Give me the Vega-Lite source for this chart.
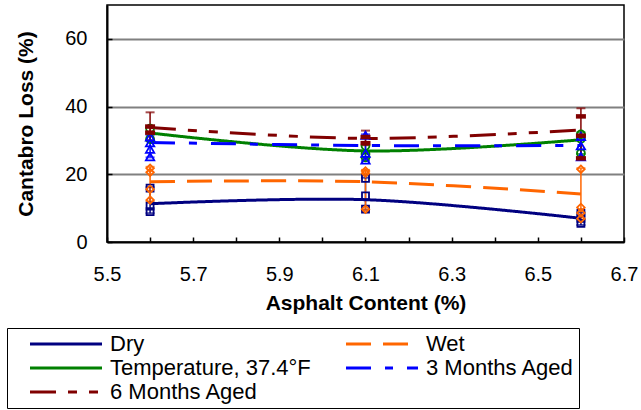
{
  "$schema": "https://vega.github.io/schema/vega-lite/v6.json",
  "width": 517,
  "height": 237,
  "autosize": "none",
  "padding": {"left": 107, "top": 5, "right": 17, "bottom": 168},
  "config": {
    "font": "Liberation Sans",
    "view": {"stroke": "#000", "strokeWidth": 1.5},
    "legend": {
      "title": null,
      "orient": "none",
      "legendX": -100,
      "legendY": 323,
      "direction": "horizontal",
      "columns": 2,
      "gridAlign": "all",
      "columnPadding": 17,
      "rowPadding": 2,
      "padding": 5,
      "strokeColor": "#000",
      "symbolType": "M-6,0H6",
      "symbolSize": 144,
      "symbolStrokeWidth": 3,
      "symbolOpacity": 1,
      "symbolFillColor": "transparent",
      "symbolOffset": 43,
      "labelFont": "Liberation Sans",
      "labelFontSize": 22,
      "labelColor": "#000",
      "labelOffset": 33,
      "labelLimit": 400
    }
  },
  "datasets": {
    "means": [
      {"series": "Dry", "asphalt": 5.6, "loss": 11.3},
      {"series": "Dry", "asphalt": 6.1, "loss": 12.5},
      {"series": "Dry", "asphalt": 6.6, "loss": 7.0},
      {"series": "Wet", "asphalt": 5.6, "loss": 17.8},
      {"series": "Wet", "asphalt": 6.1, "loss": 17.8},
      {"series": "Wet", "asphalt": 6.6, "loss": 14.2},
      {"series": "Temperature, 37.4°F", "asphalt": 5.6, "loss": 32.2},
      {"series": "Temperature, 37.4°F", "asphalt": 6.1, "loss": 26.9},
      {"series": "Temperature, 37.4°F", "asphalt": 6.6, "loss": 30.2},
      {"series": "3 Months Aged", "asphalt": 5.6, "loss": 29.4},
      {"series": "3 Months Aged", "asphalt": 6.1, "loss": 28.5},
      {"series": "3 Months Aged", "asphalt": 6.6, "loss": 28.5},
      {"series": "6 Months Aged", "asphalt": 5.6, "loss": 33.8},
      {"series": "6 Months Aged", "asphalt": 6.1, "loss": 30.6},
      {"series": "6 Months Aged", "asphalt": 6.6, "loss": 33.1}
    ],
    "samples": [
      {"series": "Dry", "asphalt": 5.6, "loss": 15.9},
      {"series": "Dry", "asphalt": 5.6, "loss": 10.6},
      {"series": "Dry", "asphalt": 5.6, "loss": 9.0},
      {"series": "Dry", "asphalt": 6.1, "loss": 18.8},
      {"series": "Dry", "asphalt": 6.1, "loss": 13.6},
      {"series": "Dry", "asphalt": 6.1, "loss": 9.7},
      {"series": "Dry", "asphalt": 6.6, "loss": 8.5},
      {"series": "Dry", "asphalt": 6.6, "loss": 7.0},
      {"series": "Dry", "asphalt": 6.6, "loss": 5.5},
      {"series": "Wet", "asphalt": 5.6, "loss": 21.8},
      {"series": "Wet", "asphalt": 5.6, "loss": 20.6},
      {"series": "Wet", "asphalt": 5.6, "loss": 15.6},
      {"series": "Wet", "asphalt": 5.6, "loss": 12.4},
      {"series": "Wet", "asphalt": 6.1, "loss": 21.0},
      {"series": "Wet", "asphalt": 6.1, "loss": 20.3},
      {"series": "Wet", "asphalt": 6.1, "loss": 9.7},
      {"series": "Wet", "asphalt": 6.6, "loss": 21.5},
      {"series": "Wet", "asphalt": 6.6, "loss": 10.2},
      {"series": "Wet", "asphalt": 6.6, "loss": 8.6},
      {"series": "Wet", "asphalt": 6.6, "loss": 6.9},
      {"series": "Temperature, 37.4°F", "asphalt": 5.6, "loss": 33.5},
      {"series": "Temperature, 37.4°F", "asphalt": 5.6, "loss": 30.4},
      {"series": "Temperature, 37.4°F", "asphalt": 6.1, "loss": 28.4},
      {"series": "Temperature, 37.4°F", "asphalt": 6.1, "loss": 26.0},
      {"series": "Temperature, 37.4°F", "asphalt": 6.1, "loss": 25.0},
      {"series": "Temperature, 37.4°F", "asphalt": 6.6, "loss": 31.8},
      {"series": "Temperature, 37.4°F", "asphalt": 6.6, "loss": 30.5},
      {"series": "Temperature, 37.4°F", "asphalt": 6.6, "loss": 26.2},
      {"series": "3 Months Aged", "asphalt": 5.6, "loss": 31.0},
      {"series": "3 Months Aged", "asphalt": 5.6, "loss": 29.3},
      {"series": "3 Months Aged", "asphalt": 5.6, "loss": 27.4},
      {"series": "3 Months Aged", "asphalt": 5.6, "loss": 25.2},
      {"series": "3 Months Aged", "asphalt": 6.1, "loss": 31.5},
      {"series": "3 Months Aged", "asphalt": 6.1, "loss": 26.2},
      {"series": "3 Months Aged", "asphalt": 6.1, "loss": 24.2},
      {"series": "3 Months Aged", "asphalt": 6.6, "loss": 31.2},
      {"series": "3 Months Aged", "asphalt": 6.6, "loss": 28.4},
      {"series": "3 Months Aged", "asphalt": 6.6, "loss": 25.2},
      {"series": "6 Months Aged", "asphalt": 5.6, "loss": 34.1},
      {"series": "6 Months Aged", "asphalt": 5.6, "loss": 32.3},
      {"series": "6 Months Aged", "asphalt": 6.1, "loss": 31.0},
      {"series": "6 Months Aged", "asphalt": 6.1, "loss": 29.2},
      {"series": "6 Months Aged", "asphalt": 6.6, "loss": 37.1},
      {"series": "6 Months Aged", "asphalt": 6.6, "loss": 31.4},
      {"series": "6 Months Aged", "asphalt": 6.6, "loss": 24.7}
    ],
    "ranges": [
      {"series": "Dry", "asphalt": 5.6, "low": 8.5, "high": 16.2},
      {"series": "Dry", "asphalt": 6.1, "low": 9.5, "high": 19.0},
      {"series": "Dry", "asphalt": 6.6, "low": 5.0, "high": 8.7},
      {"series": "Wet", "asphalt": 5.6, "low": 12.0, "high": 22.2},
      {"series": "Wet", "asphalt": 6.1, "low": 9.5, "high": 21.3},
      {"series": "Wet", "asphalt": 6.6, "low": 6.7, "high": 21.8},
      {"series": "Temperature, 37.4°F", "asphalt": 5.6, "low": 30.0, "high": 34.0},
      {"series": "Temperature, 37.4°F", "asphalt": 6.1, "low": 24.8, "high": 28.8},
      {"series": "Temperature, 37.4°F", "asphalt": 6.6, "low": 26.0, "high": 32.4},
      {"series": "3 Months Aged", "asphalt": 5.6, "low": 25.0, "high": 31.5},
      {"series": "3 Months Aged", "asphalt": 6.1, "low": 24.0, "high": 31.8},
      {"series": "3 Months Aged", "asphalt": 6.6, "low": 25.0, "high": 31.5},
      {"series": "6 Months Aged", "asphalt": 5.6, "low": 30.0, "high": 38.3},
      {"series": "6 Months Aged", "asphalt": 6.1, "low": 28.6, "high": 32.9},
      {"series": "6 Months Aged", "asphalt": 6.6, "low": 24.7, "high": 39.5}
    ]
  },
  "encoding": {
    "x": {
      "field": "asphalt",
      "type": "quantitative",
      "scale": {"domain": [5.5, 6.7], "nice": false, "zero": false},
      "axis": {
        "title": "Asphalt Content (%)",
        "values": [5.5, 5.6, 5.7, 5.8, 5.9, 6.0, 6.1, 6.2, 6.3, 6.4, 6.5, 6.6, 6.7],
        "labelExpr": "round(datum.value * 10) % 2 == 1 ? format(datum.value, '.1f') : ''",
        "grid": false,
        "domainColor": "#000",
        "domainWidth": 2,
        "tickColor": "#000",
        "tickWidth": 1.5,
        "tickSize": -5,
        "labelFontSize": 20,
        "labelColor": "#000",
        "labelPadding": 27,
        "labelFlush": false,
        "titleFontSize": 21,
        "titleFontWeight": "bold",
        "titleColor": "#000",
        "titlePadding": 8
      }
    },
    "color": {
      "field": "series",
      "type": "nominal",
      "scale": {
        "domain": ["Dry", "Wet", "Temperature, 37.4°F", "3 Months Aged", "6 Months Aged"],
        "range": ["#000080", "#ff6600", "#008000", "#0000ff", "#800000"]
      }
    }
  },
  "layer": [
    {
      "data": {"name": "ranges"},
      "mark": {"type": "rule", "strokeWidth": 1.5},
      "encoding": {
        "y": {
          "field": "low",
          "type": "quantitative",
          "scale": {"domain": [0, 70], "nice": false},
          "axis": {
            "title": "Cantabro Loss (%)",
            "values": [0, 10, 20, 30, 40, 50, 60, 70],
            "labelExpr": "datum.value % 20 == 0 && datum.value < 70 ? format(datum.value, 'd') : ''",
            "grid": true,
            "gridColor": "#808080",
            "gridWidth": 2,
            "gridOpacity": {"condition": {"test": "datum.value % 20 == 0 && datum.value > 0 && datum.value < 70", "value": 1}, "value": 0},
            "domainColor": "#000",
            "domainWidth": 2,
            "tickColor": "#000",
            "tickWidth": 1.5,
            "tickSize": -5,
            "labelFontSize": 20,
            "labelColor": "#000",
            "labelPadding": 25,
            "titleFontSize": 21,
            "titleFontWeight": "bold",
            "titleColor": "#000",
            "titlePadding": 28
          }
        },
        "y2": {"field": "high"}
      }
    },
    {
      "data": {"name": "ranges"},
      "mark": {"type": "tick", "orient": "horizontal", "size": 9, "thickness": 2},
      "encoding": {"y": {"field": "high", "type": "quantitative"}}
    },
    {
      "data": {"name": "ranges"},
      "mark": {"type": "tick", "orient": "horizontal", "size": 9, "thickness": 2},
      "encoding": {"y": {"field": "low", "type": "quantitative"}}
    },
    {
      "data": {"name": "means"},
      "mark": {"type": "line", "interpolate": "catmull-rom", "strokeWidth": 3, "strokeCap": "butt"},
      "encoding": {
        "y": {"field": "loss", "type": "quantitative"},
        "strokeDash": {
          "field": "series",
          "type": "nominal",
          "scale": {
            "domain": ["Dry", "Wet", "Temperature, 37.4°F", "3 Months Aged", "6 Months Aged"],
            "range": [[1, 0], [25, 12], [1, 0], [25, 14, 8, 14], [26, 12, 9, 12, 9, 12]]
          }
        }
      }
    },
    {
      "data": {"name": "samples"},
      "transform": [{"filter": "datum.series != '6 Months Aged'"}],
      "mark": {"type": "point", "filled": false, "strokeWidth": 1.8, "opacity": 1},
      "encoding": {
        "y": {"field": "loss", "type": "quantitative"},
        "shape": {
          "field": "series",
          "type": "nominal",
          "scale": {
            "domain": ["Dry", "Wet", "Temperature, 37.4°F", "3 Months Aged"],
            "range": ["square", "diamond", "circle", "triangle-up"]
          },
          "legend": null
        },
        "size": {
          "field": "series",
          "type": "nominal",
          "scale": {
            "domain": ["Dry", "Wet", "Temperature, 37.4°F", "3 Months Aged"],
            "range": [49, 70, 45, 60]
          },
          "legend": null
        }
      }
    },
    {
      "data": {"name": "samples"},
      "transform": [{"filter": "datum.series == '6 Months Aged'"}],
      "mark": {"type": "point", "filled": true, "opacity": 1, "size": 100, "shape": "M-1,-0.45L1,-0.45L1,0.45L-1,0.45Z"},
      "encoding": {"y": {"field": "loss", "type": "quantitative"}}
    }
  ]
}
